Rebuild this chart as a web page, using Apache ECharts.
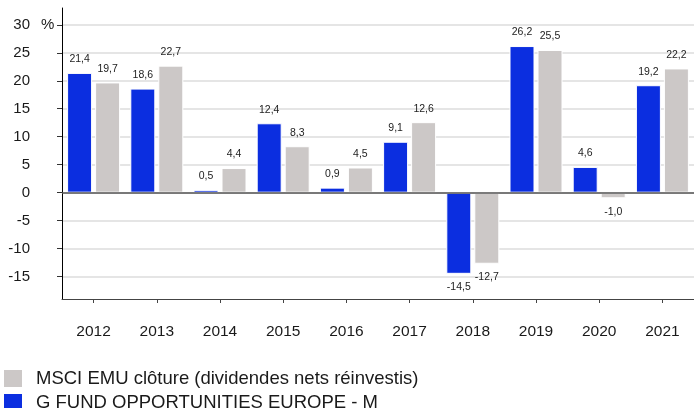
<!DOCTYPE html>
<html>
<head>
<meta charset="utf-8">
<script src="https://cdn.jsdelivr.net/npm/echarts@6/dist/echarts.min.js"></script>
<style>
  html, body { margin: 0; padding: 0; background: #fff; }
  #chart { width: 694px; height: 408px; }
</style>
</head>
<body>
<div id="chart"></div>
<script>
  // data
  var years = ['2012', '2013', '2014', '2015', '2016', '2017', '2018', '2019', '2020', '2021']
  var fundValues = [21.4, 18.6, 0.5, 12.4, 0.9, 9.1, -14.5, 26.2, 4.6, 19.2]
  var indexValues = [19.7, 22.7, 4.4, 8.3, 4.5, 12.6, -12.7, 25.5, -1.0, 22.2]
  var yTicks = [-15, -10, -5, 0, 5, 10, 15, 20, 25, 30]
  var fundName = 'G FUND OPPORTUNITIES EUROPE - M'
  var indexName = 'MSCI EMU clôture (dividendes nets réinvestis)'

  var font = 'Liberation Sans, Arial, sans-serif'

  function fmt(v) {
    return v.toFixed(1).replace('.', ',')
  }

  // negative bars get their label underneath
  function toItems(values) {
    return values.map(function (v) {
      return {
        value: v,
        label: { position: v < 0 ? 'bottom' : 'top' }
      }
    })
  }

  // one legend per row so the vertical list does not wrap into columns
  function legendRow(name, top) {
    return {
      data: [name],
      orient: 'vertical',
      left: 2,
      top: top,
      padding: 0,
      itemWidth: 20,
      itemHeight: 19,
      itemGap: 0,
      icon: 'rect',
      textStyle: { fontSize: 18.5, color: '#1a1a1a', fontFamily: font, padding: [0, 0, 0, 8] }
    }
  }

  var chart = echarts.init(document.getElementById('chart'))
  chart.setOption({
    animation: false,
    textStyle: { fontFamily: font },
    grid: {
      left: 62,
      right: -5,
      top: 8,
      bottom: 109
    },
    legend: [legendRow(indexName, 368), legendRow(fundName, 392)],
    graphic: [{
      type: 'text',
      left: 41,
      top: 17,
      style: { text: '%', fontSize: 15, fill: '#1a1a1a', fontFamily: font }
    }],
    xAxis: {
      type: 'category',
      data: years,
      axisLine: { onZero: false, lineStyle: { color: '#444', width: 1 } },
      axisTick: { show: true, alignWithLabel: true, length: 4, lineStyle: { color: '#444' } },
      axisLabel: { margin: 25, fontSize: 15.5, color: '#1a1a1a', fontFamily: font },
      splitLine: { show: false }
    },
    yAxis: {
      type: 'value',
      min: -19,
      max: 33,
      axisLine: { show: true, lineStyle: { color: '#000', width: 1 } },
      axisTick: { show: true, length: 5, inside: false, customValues: yTicks, lineStyle: { color: '#333' } },
      axisLabel: { margin: 32, fontSize: 15, color: '#1a1a1a', fontFamily: font, customValues: yTicks },
      splitLine: { show: true, lineStyle: { color: '#dcdcdc', width: 1.5 } }
    },
    series: [
      {
        name: fundName,
        type: 'bar',
        data: toItems(fundValues),
        barWidth: 25,
        barGap: '12%',
        itemStyle: { color: '#0b2ee0', borderColor: '#fff', borderWidth: 1 },
        label: {
          show: true,
          distance: 8,
          fontSize: 10.5,
          color: '#222',
          fontFamily: font,
          formatter: function (p) { return fmt(p.value) }
        },
        markLine: {
          silent: true,
          symbol: 'none',
          label: { show: false },
          lineStyle: { color: '#555', width: 1.5, type: 'solid' },
          data: [{ yAxis: 0 }]
        }
      },
      {
        name: indexName,
        type: 'bar',
        data: toItems(indexValues),
        barWidth: 25,
        itemStyle: { color: '#ccc8c7', borderColor: '#fff', borderWidth: 1 },
        label: {
          show: true,
          distance: 8,
          fontSize: 10.5,
          color: '#222',
          fontFamily: font,
          formatter: function (p) { return fmt(p.value) }
        }
      }
    ]
  })
</script>
</body>
</html>
